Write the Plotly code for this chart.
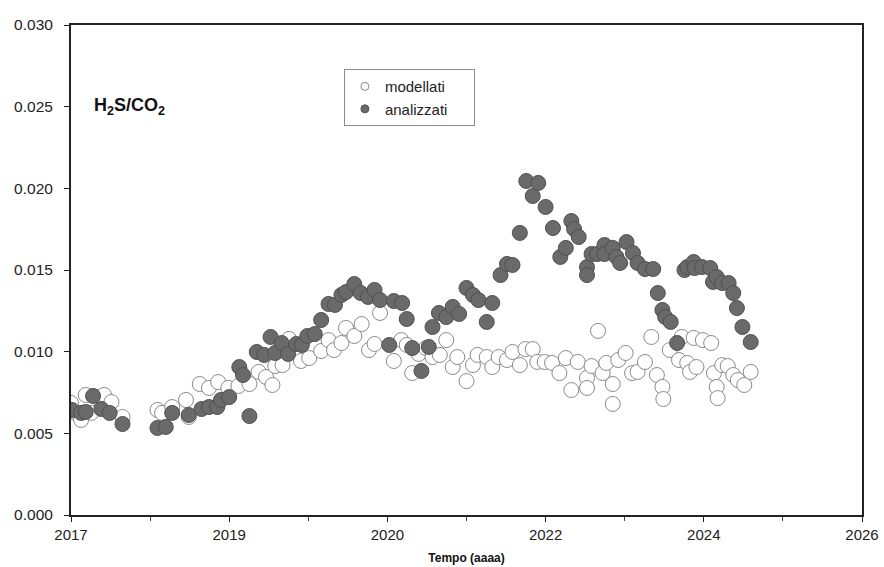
import plotly.graph_objects as go

# x axis in decimal years
tick_vals = [2017.45, 2019.17, 2020.89, 2022.61, 2024.33, 2026.05]
tick_text = ["2017", "2019", "2020", "2022", "2024", "2026"]
minor_vals = [2018.31, 2020.03, 2021.75, 2023.47, 2025.19]

mod_x = [2017.45, 2017.48, 2017.56, 2017.61, 2017.67, 2017.73, 2017.81, 2017.89, 2018.01,
         2018.39, 2018.44, 2018.55, 2018.70, 2018.73, 2018.85, 2018.95, 2019.05, 2019.16,
         2019.27, 2019.39, 2019.49, 2019.57, 2019.64, 2019.67, 2019.75, 2019.82, 2019.95,
         2020.04, 2020.17, 2020.25, 2020.31, 2020.39, 2020.44, 2020.53, 2020.61, 2020.69,
         2020.75, 2020.81, 2020.96, 2021.04, 2021.10, 2021.16, 2021.23, 2021.31, 2021.38,
         2021.46, 2021.53, 2021.60, 2021.65, 2021.75, 2021.82, 2021.87, 2021.97, 2022.03,
         2022.10, 2022.19, 2022.25, 2022.33, 2022.39, 2022.47, 2022.52, 2022.60, 2022.68,
         2022.76, 2022.83, 2022.89, 2022.96, 2023.06, 2023.06, 2023.11, 2023.18, 2023.23,
         2023.27, 2023.34, 2023.34, 2023.40, 2023.48, 2023.55, 2023.61, 2023.69, 2023.76,
         2023.82, 2023.88, 2023.89, 2023.96, 2024.06, 2024.09, 2024.15, 2024.18, 2024.22,
         2024.25, 2024.32, 2024.41, 2024.44, 2024.47, 2024.48, 2024.53, 2024.59, 2024.65,
         2024.70, 2024.77, 2024.84]
mod_y = [0.00686, 0.00631, 0.00582, 0.00735, 0.00625, 0.00722, 0.00735, 0.00692, 0.00600,
         0.00643, 0.00625, 0.00661, 0.00704, 0.00600, 0.00802, 0.00778, 0.00814, 0.00778,
         0.00790, 0.00802, 0.00876, 0.00845, 0.00796, 0.00912, 0.00918, 0.01078, 0.00943,
         0.00961, 0.01004, 0.01071, 0.01010, 0.01053, 0.01145, 0.01096, 0.01169, 0.01010,
         0.01047, 0.01237, 0.00943, 0.01071, 0.01041, 0.00869, 0.00986, 0.01022, 0.00967,
         0.00980, 0.01071, 0.00906, 0.00967, 0.00820, 0.00918, 0.00980, 0.00967, 0.00906,
         0.00967, 0.00949, 0.00998, 0.00918, 0.01016, 0.01016, 0.00937, 0.00937, 0.00931,
         0.00869, 0.00961, 0.00765, 0.00937, 0.00839, 0.00778, 0.00912, 0.01127, 0.00869,
         0.00931, 0.00802, 0.00680, 0.00949, 0.00992, 0.00869, 0.00876, 0.00937, 0.01090,
         0.00857, 0.00784, 0.00710, 0.01010, 0.00949, 0.01090, 0.00931, 0.00876, 0.01084,
         0.00906, 0.01071, 0.01053, 0.00869, 0.00784, 0.00716, 0.00918, 0.00912, 0.00857,
         0.00826, 0.00796, 0.00876]

ana_x = [2017.46, 2017.56, 2017.61, 2017.69, 2017.78, 2017.87, 2018.01,
         2018.39, 2018.48, 2018.55, 2018.73, 2018.87, 2018.95, 2019.04, 2019.08, 2019.17,
         2019.28, 2019.32, 2019.39, 2019.47, 2019.55, 2019.62, 2019.67, 2019.74, 2019.81,
         2019.90, 2019.96, 2020.02, 2020.10, 2020.17, 2020.25, 2020.32, 2020.39, 2020.44,
         2020.53, 2020.60, 2020.68, 2020.75, 2020.81, 2020.91, 2020.96, 2021.05, 2021.10,
         2021.16, 2021.26, 2021.34, 2021.38, 2021.45, 2021.53, 2021.60, 2021.67, 2021.75,
         2021.82, 2021.88, 2021.97, 2022.03, 2022.12, 2022.19, 2022.25, 2022.33, 2022.40,
         2022.47, 2022.53, 2022.61, 2022.69, 2022.77, 2022.83, 2022.89, 2022.92, 2022.97,
         2023.06, 2023.06, 2023.11, 2023.17, 2023.25, 2023.25, 2023.34, 2023.38, 2023.42,
         2023.49, 2023.56, 2023.61, 2023.69, 2023.78, 2023.83, 2023.88, 2023.91, 2023.97,
         2024.04, 2024.12, 2024.15, 2024.22, 2024.23, 2024.31, 2024.40, 2024.43, 2024.47,
         2024.53, 2024.60, 2024.65, 2024.69, 2024.75, 2024.84]
ana_y = [0.00643, 0.00625, 0.00631, 0.00729, 0.00649, 0.00625, 0.00557,
         0.00533, 0.00539, 0.00625, 0.00612, 0.00649, 0.00661, 0.00661, 0.00704, 0.00722,
         0.00906, 0.00857, 0.00606, 0.00998, 0.00980, 0.01090, 0.00992, 0.01053, 0.00986,
         0.01047, 0.01041, 0.01096, 0.01108, 0.01194, 0.01292, 0.01286, 0.01347, 0.01365,
         0.01414, 0.01359, 0.01335, 0.01378, 0.01316, 0.01041, 0.01310, 0.01298, 0.01200,
         0.01022, 0.00882, 0.01029, 0.01151, 0.01237, 0.01212, 0.01274, 0.01231, 0.01390,
         0.01347, 0.01316, 0.01182, 0.01298, 0.01469, 0.01537, 0.01531, 0.01727, 0.02045,
         0.01953, 0.02033, 0.01886, 0.01757, 0.01580, 0.01635, 0.01800, 0.01751, 0.01702,
         0.01518, 0.01469, 0.01598, 0.01598, 0.01653, 0.01598, 0.01635, 0.01580, 0.01543,
         0.01671, 0.01604, 0.01543, 0.01506, 0.01506, 0.01359, 0.01255, 0.01212, 0.01182,
         0.01053, 0.01500, 0.01518, 0.01549, 0.01512, 0.01518, 0.01512, 0.01427, 0.01457,
         0.01420, 0.01420, 0.01359, 0.01267, 0.01151, 0.01059]

FONT = "Liberation Sans, Arial, sans-serif"

fig = go.Figure()
fig.add_trace(go.Scatter(
    x=mod_x, y=mod_y, mode="markers", name="modellati", showlegend=False,
    marker=dict(size=15, color="white", line=dict(color="#8a8a8a", width=1)),
))
fig.add_trace(go.Scatter(
    x=ana_x, y=ana_y, mode="markers", name="analizzati", showlegend=False,
    marker=dict(size=15, color="#6a6a6a", line=dict(color="#505050", width=1)),
))
# legend entries with small symbols
fig.add_trace(go.Scatter(
    x=[None], y=[None], mode="markers", name="modellati",
    marker=dict(size=8, color="white", line=dict(color="#8a8a8a", width=1)),
))
fig.add_trace(go.Scatter(
    x=[None], y=[None], mode="markers", name="analizzati     ",
    marker=dict(size=8, color="#6a6a6a", line=dict(color="#505050", width=1)),
))

fig.update_layout(
    width=884, height=567,
    margin=dict(l=71, r=22, t=25, b=52, autoexpand=False),
    paper_bgcolor="white", plot_bgcolor="white",
    font=dict(family=FONT, size=14, color="#222222"),
    showlegend=True,
    legend=dict(
        x=0.345, y=0.910, xanchor="left", yanchor="top",
        bordercolor="#8c8c8c", borderwidth=1, bgcolor="white",
        font=dict(family=FONT, size=15, color="#222222"),
        itemwidth=30, tracegroupgap=0,
    ),
    xaxis=dict(
        range=[2017.45, 2026.05], tickmode="array", tickvals=tick_vals, ticktext=tick_text,
        showgrid=False, zeroline=False, showline=True, linecolor="#222222", linewidth=2,
        mirror=True, ticks="outside", ticklen=5, tickcolor="#222222", automargin=False,
        minor=dict(tickmode="array", tickvals=minor_vals, ticks="outside", ticklen=4,
                   tickcolor="#444444", showgrid=False),
        tickfont=dict(size=15),
        title=dict(text="<b>Tempo (aaaa)</b>", font=dict(size=12, color="#111111"), standoff=12),
    ),
    yaxis=dict(
        range=[0, 0.030], dtick=0.005, tickformat=".3f", automargin=False,
        showgrid=False, zeroline=False, showline=True, linecolor="#222222", linewidth=2,
        mirror=True, ticks="outside", ticklen=5, tickcolor="#222222",
        ticklabelstandoff=8,
        tickfont=dict(size=15.5),
    ),
    annotations=[dict(
        x=0.027, y=0.833, xref="paper", yref="paper", xanchor="left", yanchor="middle",
        text="<b>H<sub>2</sub>S/CO<sub>2</sub></b>", showarrow=False,
        font=dict(family=FONT, size=18, color="#111111"),
    )],
)

fig.write_html("out.html", config={"displayModeBar": False},
               post_script="document.body.style.margin='0';")
